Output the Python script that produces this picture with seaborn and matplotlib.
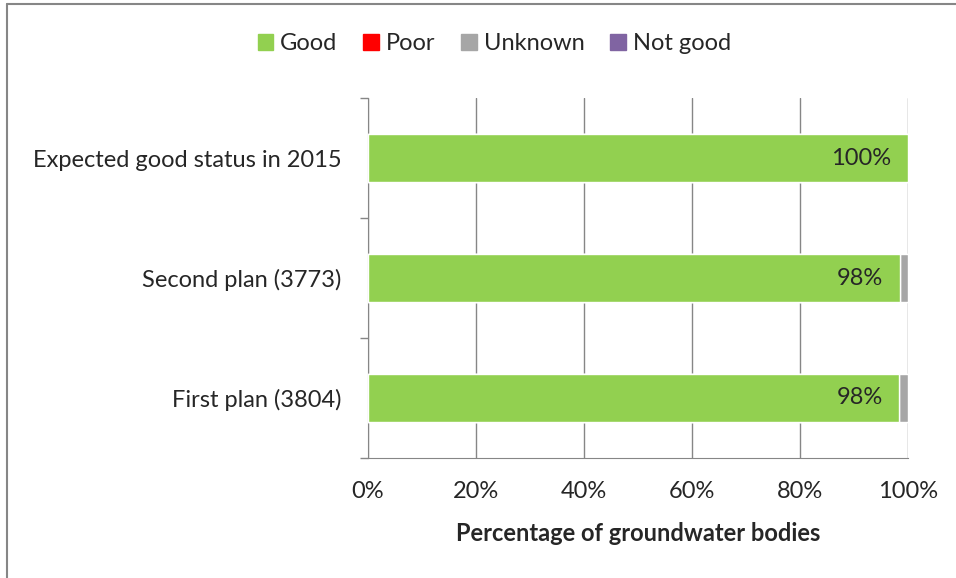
import seaborn as sns
import matplotlib.pyplot as plt
import matplotlib.patches as mpatches
import matplotlib.lines as mlines
import pandas as pd
import numpy as np

sns.set_style("white")
plt.rcParams['font.family'] = ['Lato', 'DejaVu Sans']

categories = ['Expected good status in 2015', 'Second plan (3773)', 'First plan (3804)']
good = [99.9, 98.4, 98.25]
poor = [0.0, 0.05, 0.05]
unknown = [0.0, 1.55, 1.7]
not_good = [0.1, 0.0, 0.0]
bar_labels = ['100%', '98%', '98%']

series = ['Good', 'Poor', 'Unknown', 'Not good']
colors = ['#92d050', '#ff0000', '#a6a6a6', '#8064a2']

df = pd.DataFrame({'category': categories, 'Good': good, 'Poor': poor,
                   'Unknown': unknown, 'Not good': not_good})
cum = df[series].cumsum(axis=1)

fs = 17
fig = plt.figure(figsize=(9.56, 5.78), dpi=100)
ax = fig.add_axes([0.385, 0.208, 0.565, 0.622])

# stacked bars: draw largest cumulative first
for name, col in zip(reversed(series), reversed(colors)):
    sns.barplot(x=cum[name], y=df['category'], color=col, width=0.4,
                orient='h', ax=ax, zorder=3, saturation=1)

for i, (lbl, g) in enumerate(zip(bar_labels, good)):
    ax.text(g - 3.0, i, lbl, ha='right', va='center', fontsize=fs, zorder=4)

ax.set_xlim(0, 100)
ax.set_ylim(2.5, -0.5)
ax.set_xticks(np.arange(0, 101, 20))
ax.set_xticklabels([f'{v}%' for v in range(0, 101, 20)], fontsize=fs)
ax.set_xticks([0], minor=True)
ax.set_yticks([0, 1, 2])
ax.set_yticklabels(categories, fontsize=fs)
ax.set_yticks([-0.5, 0.5, 1.5, 2.5], minor=True)
ax.tick_params(axis='y', which='major', length=0, pad=19)
ax.tick_params(axis='y', which='minor', left=True, length=6, width=1,
               color='#868686', direction='out')
ax.tick_params(axis='x', which='major', length=0, pad=17)
ax.tick_params(axis='x', which='minor', bottom=True, length=6, width=1,
               color='#868686', direction='out')
ax.grid(axis='x', color='#868686', linewidth=1, zorder=0)
ax.set_axisbelow(True)
for s in ['top', 'right']:
    ax.spines[s].set_visible(False)
ax.spines['left'].set_color('#868686')
ax.spines['bottom'].set_color('#868686')
ax.set_ylabel('')
ax.set_xlabel('Percentage of groundwater bodies', fontsize=fs,
              fontweight='bold', labelpad=14)

handles = [mpatches.Patch(color=c, label=s) for s, c in zip(series, colors)]
fig.legend(handles=handles, loc='center', bbox_to_anchor=(0.517, 0.924), ncol=4,
           frameon=False, fontsize=fs, handlelength=0.65, handleheight=0.65,
           handletextpad=0.3, columnspacing=1.1)

# chart frame: only left and top edges visible
fig.add_artist(mlines.Line2D([0.0078, 0.0078], [0, 0.9925], transform=fig.transFigure,
                             color='#868686', linewidth=1.5))
fig.add_artist(mlines.Line2D([0.0078, 1.0], [0.9925, 0.9925], transform=fig.transFigure,
                             color='#868686', linewidth=1.5))

fig.savefig('out.png', dpi=100)
